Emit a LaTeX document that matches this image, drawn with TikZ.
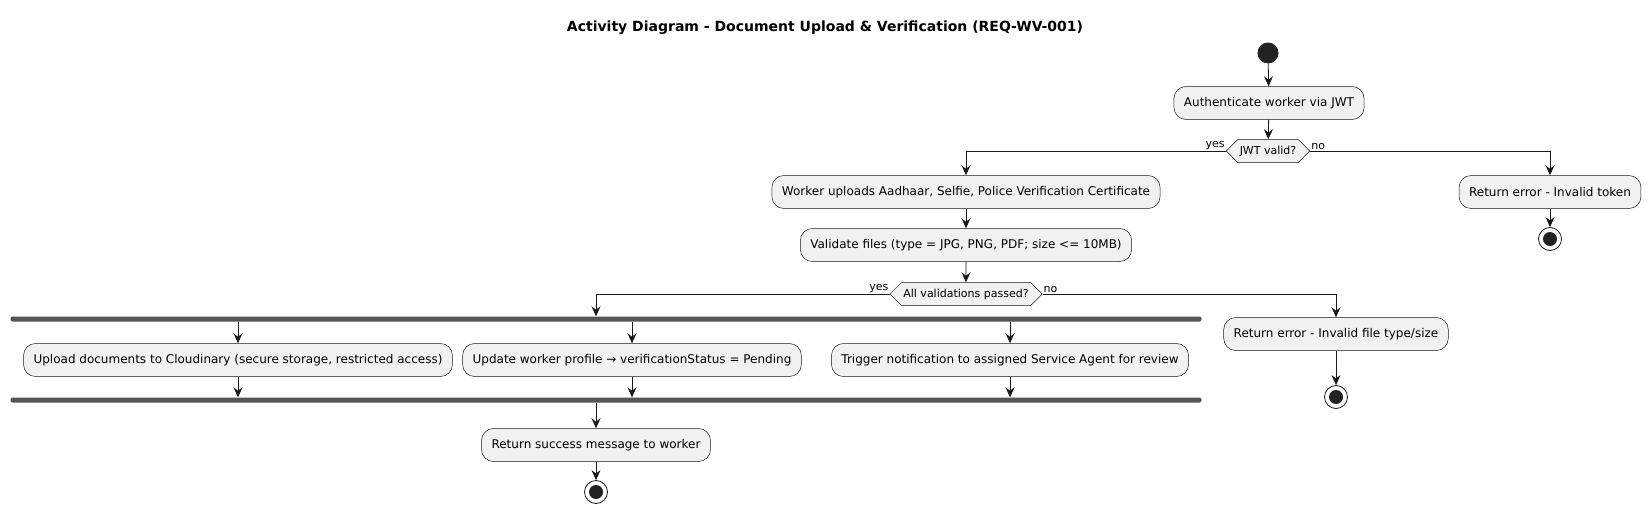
\documentclass[tikz,border=0pt]{standalone}
\usepackage{fontspec}
\setmainfont{DejaVu Sans}
\usetikzlibrary{arrows.meta, shapes.symbols, positioning}
\definecolor{actfill}{HTML}{F1F1F1}
\definecolor{actline}{HTML}{181818}
\definecolor{barfill}{HTML}{555555}
\definecolor{dotfill}{HTML}{222222}

\begin{document}
\begin{tikzpicture}[x=1pt, y=-1pt,
  action/.style={draw=actline, line width=0.5pt, fill=actfill, rounded corners=12pt,
    minimum height=33pt, inner xsep=10pt, font=\fontsize{12}{14}\selectfont},
  decision/.style={draw=actline, line width=0.5pt, fill=actfill, shape=signal,
    signal to=east and west, signal pointer angle=90, minimum height=23pt,
    inner xsep=2pt, inner ysep=1pt, font=\fontsize{11}{13}\selectfont},
  bar/.style={fill=barfill, rounded corners=2pt, minimum height=5pt, inner sep=0pt},
  startdot/.style={circle, fill=dotfill, minimum size=21pt, inner sep=0pt},
  enddot/.style={circle, draw=actline, line width=0.8pt, fill=white, minimum size=23pt,
    inner sep=0pt, path picture={\fill[dotfill] (path picture bounding box.center) circle (7pt);}},
  flow/.style={-{Stealth[length=10pt,width=9pt,inset=3.5pt]}, line width=0.8pt, draw=actline},
  guard/.style={font=\fontsize{11}{13}\selectfont, inner sep=1pt}]
  \useasboundingbox (0,0) rectangle (1652,514);

  \node[font=\bfseries\fontsize{14}{16}\selectfont] (title) at (825,28)
    {Activity Diagram - Document Upload \& Verification (REQ-WV-001)};

  % main line
  \node[startdot] (start) at (1268,53) {};
  \node[action] (auth) at (1269,103) {Authenticate worker via JWT};
  \node[decision] (jwt) at (1268,151) {JWT valid?};
  \node[action] (upl) at (966,192) {Worker uploads Aadhaar, Selfie, Police Verification Certificate};
  \node[action] (tok) at (1550,192) {Return error - Invalid token};
  \node[enddot] (tokend) at (1550,239) {};
  \node[action] (val) at (966,245) {Validate files (type = JPG, PNG, PDF; size \textless= 10MB)};
  \node[decision] (allok) at (966,294) {All validations passed?};
  \node[action] (ftype) at (1336,334) {Return error - Invalid file type/size};
  \node[enddot] (ftend) at (1336,397) {};

  % fork / join
  \node[bar, minimum width=1191pt] (fork) at (606,319) {};
  \node[action] (cloud) at (238,360) {Upload documents to Cloudinary (secure storage, restricted access)};
  \node[action] (prof) at (632,360) {Update worker profile → verificationStatus = Pending};
  \node[action] (notif) at (1010,360) {Trigger notification to assigned Service Agent for review};
  \node[bar, minimum width=1191pt] (join) at (606,400) {};
  \node[action] (succ) at (596,445) {Return success message to worker};
  \node[enddot] (succend) at (596,492) {};

  \draw[flow] (start) -- (auth);
  \draw[flow] (auth) -- (jwt);
  \draw[flow] (jwt.west) -| (upl);
  \draw[flow] (jwt.east) -| (tok);
  \node[guard, anchor=south east] at (jwt.west) {yes};
  \node[guard, anchor=south west] at (jwt.east) {no};
  \draw[flow] (tok) -- (tokend);
  \draw[flow] (upl) -- (val);
  \draw[flow] (val) -- (allok);
  \draw[flow] (allok.west) -| (succ |- fork.north);
  \draw[flow] (allok.east) -| (ftype);
  \node[guard, anchor=south east] at (allok.west) {yes};
  \node[guard, anchor=south west] at (allok.east) {no};
  \draw[flow] (ftype) -- (ftend);
  \draw[flow] (cloud |- fork.south) -- (cloud);
  \draw[flow] (prof |- fork.south) -- (prof);
  \draw[flow] (notif |- fork.south) -- (notif);
  \draw[flow] (cloud) -- (cloud |- join.north);
  \draw[flow] (prof) -- (prof |- join.north);
  \draw[flow] (notif) -- (notif |- join.north);
  \draw[flow] (succ |- join.south) -- (succ);
  \draw[flow] (succ) -- (succend);
\end{tikzpicture}
\end{document}
